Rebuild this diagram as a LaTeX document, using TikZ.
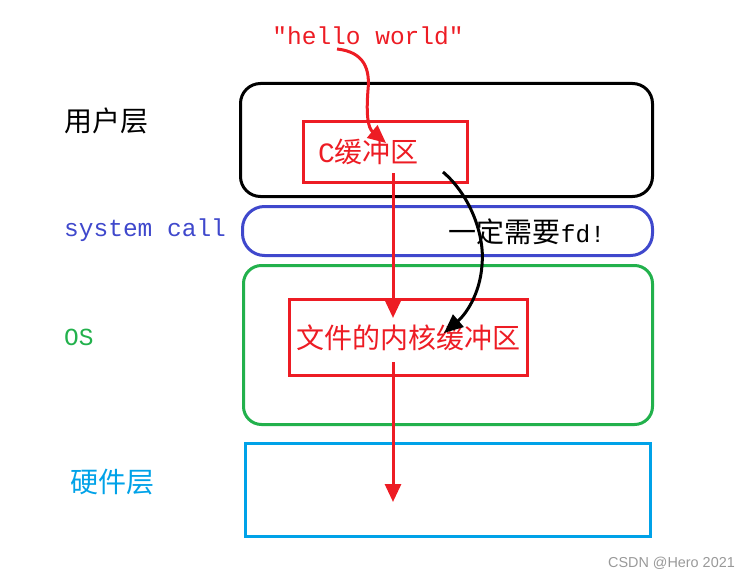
\documentclass[tikz,border=0pt]{standalone}
\usepackage{fontspec}
\setmonofont{Liberation Mono}
\setsansfont{Liberation Sans}
\newfontfamily\cjk{Noto Sans CJK SC}
\usetikzlibrary{arrows.meta, positioning}

\definecolor{pred}{RGB}{237,28,36}
\definecolor{pblue}{RGB}{63,72,204}
\definecolor{pgreen}{RGB}{34,177,76}
\definecolor{pcyan}{RGB}{0,162,232}

\begin{document}
\begin{tikzpicture}[
      x=1pt, y=-1pt,
      layer/.style={draw, line width=3pt, inner sep=0pt},
      buf/.style={draw=pred, line width=3pt, inner sep=0pt, text=pred},
      zh/.style={font=\cjk\fontsize{28}{30}\selectfont},
      tt/.style={font=\ttfamily\fontsize{24.5}{28}\selectfont},
      lbl/.style={anchor=west, inner sep=0pt},
      flow/.style={pred, line width=3pt, -{Triangle[width=16pt,length=18pt]}},
      call/.style={black, line width=3pt, -{Triangle[width=16pt,length=19pt]}}]

    % 1 unit = 1 px of the 750x578 frame, y grows downwards
    \useasboundingbox (0,0) rectangle (750,578);

    % Layer frames
    \node[layer, rounded corners=20pt, minimum width=412pt, minimum height=113pt] (user) at (446.5,140) {};
    \node[layer, draw=pblue, rounded corners=22pt, minimum width=410pt, minimum height=49pt] (sys) at (447.5,231) {};
    \node[layer, draw=pgreen, rounded corners=18pt, minimum width=409pt, minimum height=159pt] (os) at (448,345) {};
    \node[layer, draw=pcyan, minimum width=405pt, minimum height=93pt] (hw) at (448,490) {};

    % Layer names (left column)
    \node[lbl, zh] (userlbl) at (64,121) {用户层};
    \node[lbl, tt, text=pblue] (syslbl) at (64,230) {system call};
    \node[lbl, tt, text=pgreen] (oslbl) at (64,337) {OS};
    \node[lbl, zh, text=pcyan] (hwlbl) at (70,482) {硬件层};

    % Buffers
    \node[buf, minimum width=164pt, minimum height=61pt, inner xsep=14.5pt,
          text width=135pt, align=left, font=\fontsize{28}{30}\selectfont]
          (cbuf) at (385.5,152) {{\ttfamily C}{\cjk 缓冲区}};
    \node[buf, zh, minimum width=238pt, minimum height=76pt] (kbuf) at (408.5,337.5) {文件的内核缓冲区};

    % The string written by the program
    \node[tt, text=pred, inner sep=0pt] (hello) at (368,36) {"hello world"};

    % Data path
    \draw[flow] ([xshift=-31pt,yshift=-13pt]hello.center)
        .. controls (365,52) and (370,70) .. (368,90)
        .. controls (366,115) and (368,128) .. ([xshift=0.5pt,yshift=9pt]cbuf.center);
    \draw[flow] ([xshift=7.5pt,yshift=11pt]cbuf.south) -- ([xshift=-15.5pt,yshift=-20pt]kbuf.north);
    \draw[flow] ([xshift=-15.5pt,yshift=15pt]kbuf.south) -- ([xshift=-55pt,yshift=-12pt]hw.center);

    % System call needs the fd
    \draw[call] ([xshift=57.5pt,yshift=-20pt]cbuf.center)
        .. controls (470,195) and (485,235) .. (482,265)
        .. controls (480,295) and (465,315) .. ([xshift=35.5pt,yshift=4.5pt]kbuf.center);
    \node[inner sep=0pt, font=\fontsize{28}{30}\selectfont] (fdnote) at (527,232)
        {{\cjk 一定需要}{\ttfamily\fontsize{24.5}{28}\selectfont fd!}};

    % Watermark
    \node[anchor=east, inner sep=0pt, text=gray!80, font=\sffamily\fontsize{14.4}{16}\selectfont]
        (mark) at (735,563) {CSDN @Hero 2021};

\end{tikzpicture}
\end{document}
